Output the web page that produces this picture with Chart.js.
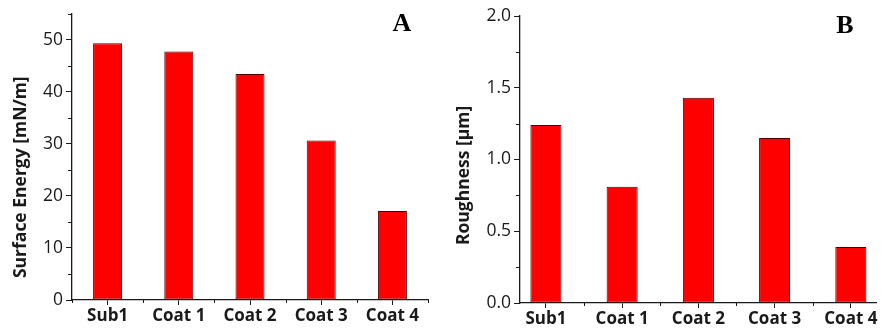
<!DOCTYPE html>
<html>
<head>
<meta charset="utf-8">
<script src="https://cdn.jsdelivr.net/npm/chart.js@4.4.1/dist/chart.umd.min.js"></script>
<style>
  body { margin: 0; background: #fff; }
  #wrap { position: relative; width: 881px; height: 333px; }
  canvas { position: absolute; top: 0; }
</style>
</head>
<body>
<div id="wrap">
  <canvas id="chartA" width="440" height="333" style="left:0"></canvas>
  <canvas id="chartB" width="441" height="333" style="left:440px"></canvas>
</div>
<script>
const categories = ['Sub1', 'Coat 1', 'Coat 2', 'Coat 3', 'Coat 4'];
const surfaceEnergy = [49.3, 47.7, 43.4, 30.6, 17.1];   // mN/m
const roughness = [1.24, 0.81, 1.43, 1.15, 0.39];       // µm

const INK = '#1a1a1a';
const FONT = '"Open Sans", sans-serif';

// short minor ticks, the major ones come from the grid
const minorTicks = {
    id: 'minorTicks',
    afterDraw(chart) {
        const ctx = chart.ctx;
        ctx.save();
        ctx.strokeStyle = INK;
        ctx.lineWidth = 1;
        const x = chart.scales.x, y = chart.scales.y;
        x.ticks.forEach(t => {
            if (t.major) return;
            const px = Math.round(x.getPixelForValue(t.value)) + 0.5;
            ctx.beginPath();
            ctx.moveTo(px, x.top);
            ctx.lineTo(px, x.top + 3);
            ctx.stroke();
        });
        y.ticks.forEach(t => {
            if (t.major) return;
            const py = Math.round(y.getPixelForValue(t.value)) + 0.5;
            ctx.beginPath();
            ctx.moveTo(y.right, py);
            ctx.lineTo(y.right - 4, py);
            ctx.stroke();
        });
        ctx.restore();
    }
};

// panel letter (A / B) in the top right corner
const panelLetter = {
    id: 'panelLetter',
    afterDraw(chart, args, opts) {
        const ctx = chart.ctx, a = chart.chartArea;
        ctx.save();
        ctx.font = 'bold 26px "Liberation Serif", "Times New Roman", serif';
        ctx.fillStyle = '#000';
        ctx.textAlign = 'center';
        ctx.textBaseline = 'middle';
        ctx.fillText(opts.text, a.right + opts.dx, a.top + opts.dy);
        ctx.restore();
    }
};

function makePanel(id, values, p) {
    const data = values.map((v, i) => ({ x: i + 1, y: v }));
    return new Chart(document.getElementById(id), {
        type: 'bar',
        data: {
            datasets: [{
                data: data,
                backgroundColor: '#ff0000',
                borderColor: '#4a0000',
                borderWidth: 1,
                borderSkipped: false,
                categoryPercentage: 1,
                barPercentage: 0.815
            }]
        },
        plugins: [minorTicks, panelLetter],
        options: {
            responsive: false,
            animation: false,
            devicePixelRatio: 1,
            layout: { padding: { top: p.top, right: p.right, left: 0, bottom: 0 } },
            plugins: {
                legend: { display: false },
                tooltip: { enabled: false },
                panelLetter: { text: p.letter, dx: p.letterDx, dy: p.letterDy }
            },
            scales: {
                x: {
                    type: 'linear',
                    offset: false,
                    min: p.xMin,
                    max: p.xMax,
                    afterBuildTicks: s => {
                        const t = [];
                        for (let i = 0; i <= categories.length; i++) {
                            const half = i + 0.5;
                            if (half >= p.xMin && half <= p.xMax) t.push({ value: half, major: false });
                            if (i < categories.length) t.push({ value: i + 1, major: true });
                        }
                        t.sort((a, b) => a.value - b.value);
                        s.ticks = t;
                    },
                    afterFit: s => { s.height = p.xHeight; },
                    ticks: {
                        autoSkip: false,
                        maxRotation: 0,
                        padding: 1,
                        color: INK,
                        font: { family: FONT, size: 17, weight: 'bold' },
                        callback: v => Number.isInteger(v) ? categories[v - 1] : ''
                    },
                    grid: {
                        drawOnChartArea: false,
                        offset: false,
                        tickLength: 5,
                        tickColor: c => (c.tick && c.tick.major) ? INK : 'rgba(0,0,0,0)'
                    },
                    border: { color: INK, width: 1.3 }
                },
                y: {
                    min: 0,
                    max: p.yMax,
                    afterBuildTicks: s => {
                        const t = [];
                        const n = Math.round(p.yMax / p.minorStep);
                        for (let i = 0; i <= n; i++) {
                            const v = +(i * p.minorStep).toFixed(4);
                            t.push({ value: v, major: i % 2 === 0 });
                        }
                        s.ticks = t;
                    },
                    afterFit: s => { s.width = p.yWidth; },
                    ticks: {
                        padding: 3,
                        color: INK,
                        font: { family: FONT, size: 17.5 },
                        callback: (v, i, ticks) => ticks[i].major ? v.toFixed(p.decimals) : ''
                    },
                    grid: {
                        drawOnChartArea: false,
                        tickLength: 6,
                        tickColor: c => (c.tick && c.tick.major) ? INK : 'rgba(0,0,0,0)'
                    },
                    border: { color: INK, width: 1.3 },
                    title: {
                        display: true,
                        // trailing spaces nudge the title down the axis like the original
                        text: p.title + '\u00a0'.repeat(p.titleShift),
                        color: INK,
                        font: { family: FONT, size: 17.5, weight: 'bold' },
                        padding: { top: p.titlePad, bottom: 0 }
                    }
                }
            }
        }
    });
}

makePanel('chartA', surfaceEnergy, {
    title: 'Surface Energy [mN/m]', letter: 'A', titleShift: 9,
    yMax: 55, minorStep: 5, decimals: 0,
    xMin: 0.5, xMax: 5.5,
    top: 13, right: 12, yWidth: 72, xHeight: 33, titlePad: 11,
    letterDx: -26, letterDy: 11
});

makePanel('chartB', roughness, {
    title: 'Roughness [µm]', letter: 'B', titleShift: 7,
    yMax: 2.0, minorStep: 0.25, decimals: 1,
    xMin: 0.66, xMax: 5.33,
    top: 16, right: 5, yWidth: 80, xHeight: 30, titlePad: 14,
    letterDx: -31, letterDy: 10
});
</script>
</body>
</html>
